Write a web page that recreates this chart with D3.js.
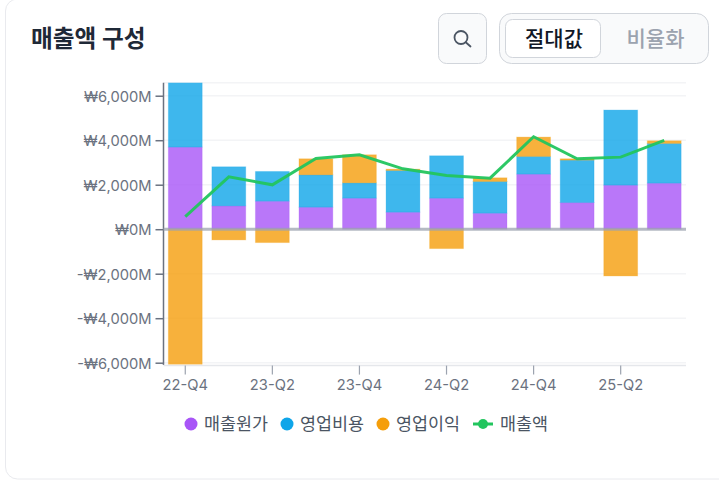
<!DOCTYPE html>
<html lang="ko">
<head>
<meta charset="utf-8">
<script src="https://cdn.jsdelivr.net/npm/d3@7/dist/d3.min.js"></script>
<style>
  html, body { margin: 0; padding: 0; background: #fff; overflow: hidden; }
  svg { display: block; font-family: Inter, "Noto Sans CJK KR", sans-serif; }
</style>
</head>
<body>
<svg id="chart" width="719" height="480"></svg>
<script>
// Quarterly revenue composition, in millions of won
const quarters = ["22-Q4","23-Q1","23-Q2","23-Q3","23-Q4","24-Q1","24-Q2","24-Q3","24-Q4","25-Q1","25-Q2","25-Q3"];
const costOfSales = [3690, 1050, 1260, 990, 1395, 765, 1395, 720, 2475, 1200, 1980, 2070];
const operatingExpense = [3100, 1755, 1335, 1455, 690, 1875, 1905, 1425, 795, 1905, 3375, 1785];
const operatingIncome = [-6220, -480, -600, 720, 1260, 60, -870, 165, 870, 60, -2100, 120];
const revenue = [570, 2355, 1995, 3180, 3345, 2715, 2415, 2295, 4155, 3165, 3240, 3990];
const yTicks = [-6000, -4000, -2000, 0, 2000, 4000, 6000];
const xTickLabels = ["22-Q4","23-Q2","23-Q4","24-Q2","24-Q4","25-Q2"];
const seriesNames = ["매출원가","영업비용","영업이익"];
const seriesColors = ["#a855f7","#0ea5e9","#f59e0b"];
const lineName = "매출액";
const lineColor = "#22c55e";

const plot = { left: 163.5, right: 686, top: 82.7, bottom: 364.6 };
const svg = d3.select("#chart");

// Card outline, open past the right edge of the page
svg.append("rect").attr("x", 5.5).attr("y", -1).attr("width", 760).attr("height", 480)
  .attr("rx", 12).attr("fill", "#fff").attr("stroke", "#e9eaee");

// Header
svg.append("text").attr("x", 31).attr("y", 47).attr("font-size", 23.7).attr("font-weight", 700)
  .attr("fill", "#1f2937").text("매출액 구성");

svg.append("rect").attr("x", 438.5).attr("y", 13.5).attr("width", 48).attr("height", 50).attr("rx", 8)
  .attr("fill", "#f9fafb").attr("stroke", "#d1d5db");
const lens = svg.append("g").attr("fill", "none").attr("stroke", "#4b5563").attr("stroke-width", 1.8);
lens.append("circle").attr("cx", 461).attr("cy", 37.5).attr("r", 6.5);
lens.append("path").attr("d", d3.line()([[466, 42.5], [470.5, 46.5]])).attr("stroke-linecap", "round");

svg.append("rect").attr("x", 499.5).attr("y", 13.5).attr("width", 209).attr("height", 50).attr("rx", 12)
  .attr("fill", "#f9fafb").attr("stroke", "#d1d5db");
svg.append("rect").attr("x", 505.5).attr("y", 19.5).attr("width", 95).attr("height", 38).attr("rx", 7)
  .attr("fill", "#fff").attr("stroke", "#d1d5db");
svg.append("text").attr("x", 554).attr("y", 45.5).attr("text-anchor", "middle").attr("font-size", 21)
  .attr("font-weight", 500).attr("fill", "#111827").text("절대값");
svg.append("text").attr("x", 655.5).attr("y", 45.5).attr("text-anchor", "middle").attr("font-size", 21)
  .attr("font-weight", 500).attr("fill", "#9ca3af").text("비율화");

// Scales
const x = d3.scaleBand().domain(quarters).range([plot.left, plot.right]).paddingInner(0.2).paddingOuter(0.1);
const y = d3.scaleLinear().domain([-6085, 6585]).range([plot.bottom, plot.top]);
const cx = q => x(q) + x.bandwidth() / 2;

svg.append("defs").append("clipPath").attr("id", "plot-clip").append("rect")
  .attr("x", plot.left).attr("y", plot.top).attr("width", plot.right - plot.left).attr("height", plot.bottom - plot.top);

// Horizontal grid, including the top edge of the plot
const gridValues = yTicks.filter(v => v !== 0).concat(y.domain()[1]);
svg.append("g").selectAll("line").data(gridValues).join("line")
  .attr("x1", plot.left).attr("x2", plot.right)
  .attr("y1", d => y(d)).attr("y2", d => y(d))
  .attr("stroke", "#f3f4f6").attr("stroke-width", 1.5);

// Stacked bars: positive parts build upward from zero, negative parts downward
const rows = quarters.map((q, i) => ({ q, parts: [costOfSales[i], operatingExpense[i], operatingIncome[i]] }));
const bars = svg.append("g").attr("clip-path", "url(#plot-clip)");
rows.forEach(row => {
  let up = 0, down = 0;
  row.parts.forEach((v, k) => {
    const from = v >= 0 ? up : down;
    const to = from + v;
    if (v >= 0) up = to; else down = to;
    bars.append("rect")
      .attr("x", x(row.q) + 0.5)
      .attr("width", x.bandwidth() - 1)
      .attr("y", y(Math.max(from, to)))
      .attr("height", Math.abs(y(from) - y(to)))
      .attr("fill", seriesColors[k]).attr("fill-opacity", 0.8)
      .attr("stroke", seriesColors[k]).attr("stroke-opacity", 0.25);
  });
});

// Y axis
const yAxis = svg.append("g").attr("transform", `translate(${plot.left},0)`)
  .call(d3.axisLeft(y).tickValues(yTicks).tickSize(8).tickPadding(4)
    .tickFormat(d => (d < 0 ? "-" : "") + "₩" + d3.format(",")(Math.abs(d)) + "M"));
yAxis.attr("font-family", null).attr("font-size", null);
yAxis.select(".domain").attr("stroke", "#6b7280").attr("stroke-width", 1.5)
  .attr("d", `M0,${plot.top}V${plot.bottom + 0.5}`);
yAxis.selectAll(".tick line").attr("stroke", "#6b7280").attr("stroke-width", 1.5);
yAxis.selectAll(".tick text").attr("fill", "#6b7280").attr("font-size", 14.7).attr("dy", "0.38em");

// X axis
const xAxis = svg.append("g").attr("transform", `translate(0,${plot.bottom + 1})`)
  .call(d3.axisBottom(x).tickValues(xTickLabels).tickSize(9).tickPadding(5));
xAxis.attr("font-family", null).attr("font-size", null);
xAxis.select(".domain").attr("stroke", "#e5e7eb").attr("stroke-width", 1.5)
  .attr("d", `M${plot.left},0H${plot.right}`);
xAxis.selectAll(".tick line").attr("stroke", "#9ca3af").attr("stroke-width", 1.2);
xAxis.selectAll(".tick text").attr("fill", "#6b7280").attr("font-size", 14.7);

// Zero baseline sits above the bars
svg.append("line").attr("x1", plot.left).attr("x2", plot.right)
  .attr("y1", y(0)).attr("y2", y(0)).attr("stroke", "#9ca3af").attr("stroke-opacity", 0.75).attr("stroke-width", 3);

// Revenue line
svg.append("path").datum(revenue)
  .attr("fill", "none").attr("stroke", lineColor).attr("stroke-width", 3).attr("stroke-opacity", 0.95)
  .attr("d", d3.line().x((d, i) => cx(quarters[i])).y(d => y(d)));

// Legend
const legendY = 424;
const legendX = [191, 287, 383];
const legend = svg.append("g").attr("font-size", 17.4).attr("fill", "#4b5563");
seriesNames.forEach((name, i) => {
  legend.append("circle").attr("cx", legendX[i]).attr("cy", legendY).attr("r", 6.5).attr("fill", seriesColors[i]);
  legend.append("text").attr("x", legendX[i] + 13).attr("y", legendY + 6).text(name);
});
legend.append("line").attr("x1", 473).attr("x2", 493).attr("y1", legendY).attr("y2", legendY)
  .attr("stroke", lineColor).attr("stroke-width", 3);
legend.append("circle").attr("cx", 483).attr("cy", legendY).attr("r", 5).attr("fill", lineColor);
legend.append("text").attr("x", 500).attr("y", legendY + 6).text(lineName);
</script>
</body>
</html>
